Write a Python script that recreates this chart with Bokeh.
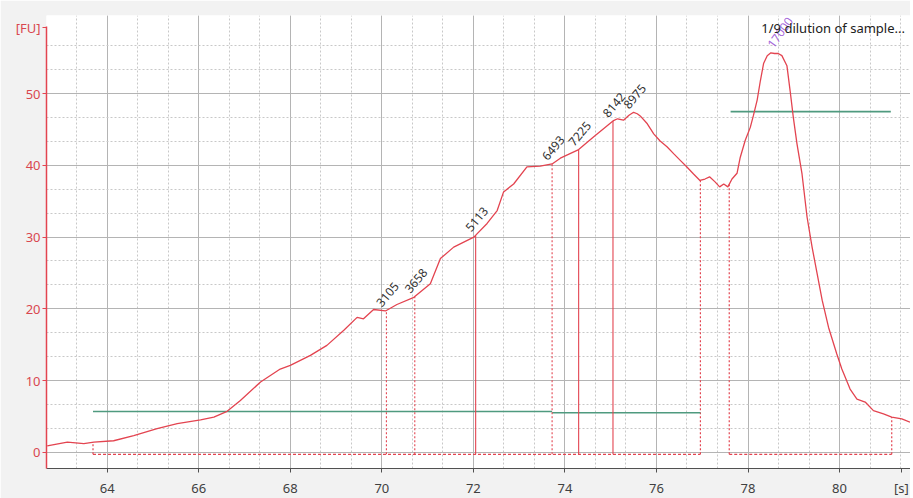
import numpy as np
from bokeh.plotting import figure
from bokeh.models import SingleIntervalTicker, FixedTicker, Label, ColumnDataSource, Range1d
from bokeh.core.properties import value
from bokeh.embed import file_html
from bokeh.resources import INLINE

# electropherogram trace (time [s], fluorescence [FU])
time_s = [62.69, 63.13, 63.49, 63.71, 64.14, 64.58, 65.09, 65.53, 66.04, 66.33, 66.62, 66.91,
          67.35, 67.78, 68.0, 68.44, 68.80, 69.17, 69.46, 69.60, 69.82, 70.08, 70.33, 70.70,
          71.06, 71.28, 71.57, 72.01, 72.30, 72.52, 72.66, 72.88, 73.17, 73.46, 73.72, 73.90,
          74.30, 74.63, 75.05, 75.15, 75.28, 75.40, 75.50, 75.58, 75.66, 75.80, 75.94, 76.08,
          76.23, 76.38, 76.52, 76.66, 76.81, 76.95, 77.06, 77.16, 77.28, 77.38, 77.47, 77.56,
          77.65, 77.76, 77.83, 77.94, 78.05, 78.12, 78.20, 78.27, 78.34, 78.42, 78.50, 78.58,
          78.66, 78.74, 78.85, 78.92, 78.99, 79.07, 79.18, 79.29, 79.40, 79.51, 79.62, 79.76,
          79.94, 80.05, 80.23, 80.38, 80.56, 80.74, 80.96, 81.14, 81.36, 81.54]
fu = [0.9, 1.4, 1.2, 1.4, 1.6, 2.3, 3.3, 4.0, 4.5, 4.9, 5.7, 7.2,
      9.8, 11.6, 12.1, 13.5, 14.9, 17.0, 18.8, 18.6, 19.9, 19.7, 20.6, 21.6,
      23.5, 27.0, 28.6, 30.0, 31.9, 33.7, 36.3, 37.4, 39.8, 39.9, 40.2, 41.0,
      42.2, 44.0, 46.2, 46.5, 46.3, 47.0, 47.4, 47.2, 46.8, 45.8, 44.4, 43.4,
      42.6, 41.6, 40.7, 39.8, 38.8, 37.9, 38.1, 38.4, 37.7, 37.0, 37.4, 37.0,
      38.1, 38.9, 41.1, 43.5, 45.3, 47.0, 49.1, 51.8, 54.2, 55.3, 55.7, 55.6,
      55.6, 55.3, 53.9, 50.4, 46.7, 43.0, 38.8, 32.8, 28.6, 24.9, 21.2, 17.4,
      13.7, 11.6, 8.8, 7.4, 7.0, 5.8, 5.35, 4.9, 4.65, 4.2]

# called peaks (size labels, bp)
peak_time = [70.10, 70.72, 72.05, 73.72, 74.30, 75.05, 75.50]
peak_label = ["3105", "3658", "5113", "6493", "7225", "8142", "8975"]
peak_has_line = [True, True, True, True, True, True, False]
peak_dash = ["2 2", "2 2", "solid", "2 2", "solid", "solid", "solid"]
marker_time = [78.57]
marker_label = ["17000"]

# smear regions: [start, end], baseline and thresholds
region_start = [63.69, 77.59]
region_end = [76.96, 81.14]
region_baseline = [-0.3, -0.3]
threshold_start = [63.69, 73.72, 77.62]
threshold_end = [73.72, 76.96, 81.12]
threshold_fu = [5.68, 5.5, 47.5]

# axis ticks
x_ticks = [64, 66, 68, 70, 72, 74, 76, 78, 80]
y_ticks = [0, 10, 20, 30, 40, 50]
x_unit, y_unit = "[s]", "[FU]"

sample_name = "1/9 dilution of sample..."

RED = "#e34450"
GREEN = "#4f9a7f"
FONT = "Noto Sans"

X0, X1 = 62.674, 81.55
Y0, Y1 = -2.27, 60.9

p = figure(frame_width=864, frame_height=453, min_border_left=46, min_border_right=0,
           min_border_top=15, min_border_bottom=5,
           x_range=Range1d(X0, X1), y_range=Range1d(Y0, Y1),
           output_backend="svg", toolbar_location=None,
           background_fill_color="white", border_fill_color="#f2f2f2")
p.outline_line_color = None

# axes: unit labels shown as the last tick label
x_unit_pos = 81.35
y_unit_pos = 59.2
p.xaxis.ticker = FixedTicker(ticks=x_ticks + [x_unit_pos], minor_ticks=[])
p.xaxis.major_label_overrides = {x_unit_pos: x_unit}
p.yaxis.ticker = FixedTicker(ticks=y_ticks + [y_unit_pos], minor_ticks=[])
p.yaxis.major_label_overrides = {y_unit_pos: y_unit}
p.yaxis.bounds = (Y0, y_unit_pos + 0.1)

# grid with 3 minor intervals per major interval
p.xgrid.ticker = SingleIntervalTicker(interval=2, num_minor_ticks=3)
y_minor = [v for v in np.arange(-10, 60, 10 / 3) if abs(v / 10 - round(v / 10)) > 1e-6]
p.ygrid.ticker = FixedTicker(ticks=y_ticks, minor_ticks=y_minor)

for g in (p.xgrid, p.ygrid):
    g.grid_line_color = "#b4b4b4"
    g.grid_line_width = 1
    g.minor_grid_line_color = "#c8c8c8"
    g.minor_grid_line_dash = "2 2"
    g.minor_grid_line_width = 1

p.xaxis.axis_line_color = "#505050"
p.xaxis.major_tick_line_color = "#505050"
p.xaxis.major_tick_out = 4
p.xaxis.major_tick_in = 0
p.xaxis.minor_tick_line_color = None
p.xaxis.major_label_text_color = "#404040"
p.xaxis.major_label_text_font = FONT
p.xaxis.major_label_text_font_size = "13px"
p.xaxis.major_label_standoff = 6

p.yaxis.axis_line_color = RED
p.yaxis.axis_line_width = 1.5
p.yaxis.major_tick_line_color = RED
p.yaxis.major_tick_out = 4
p.yaxis.major_tick_in = 0
p.yaxis.minor_tick_line_color = None
p.yaxis.major_label_text_color = "#d9474f"
p.yaxis.major_label_text_font = FONT
p.yaxis.major_label_text_font_size = "13px"
p.yaxis.major_label_standoff = 2

# baselines of the regions
for s, e, b in zip(region_start, region_end, region_baseline):
    p.line([s, e], [b, b], line_color=RED, line_dash="3 2", line_width=1.2)
    for xx in (s, e):
        p.line([xx, xx], [b, float(np.interp(xx, time_s, fu))],
               line_color=RED, line_dash="2 2", line_width=1.2)

# thresholds
for s, e, t in zip(threshold_start, threshold_end, threshold_fu):
    p.line([s, e], [t, t], line_color=GREEN, line_width=1.6)

# peak drop lines
for t, has, d in zip(peak_time, peak_has_line, peak_dash):
    if has:
        p.line([t, t], [region_baseline[0], float(np.interp(t, time_s, fu))],
               line_color=RED, line_dash=d, line_width=1.1)

# trace
p.line(time_s, fu, line_color=RED, line_width=1.3)

# peak labels
peak_src = ColumnDataSource(dict(x=peak_time, y=[float(np.interp(t, time_s, fu)) for t in peak_time],
                                 t=peak_label))
p.text(x="x", y="y", text="t", source=peak_src, angle=0.87, text_align="center",
       text_baseline="middle", x_offset=1, y_offset=-16, text_font=value(FONT),
       text_font_size="12px", text_color="#303030")

p.add_layout(Label(x=81.43, y=59.2, text=sample_name, text_align="right", text_baseline="middle",
                   text_font=FONT, text_font_size="13px", text_color="#202020"))

mk_src = ColumnDataSource(dict(x=marker_time, y=[float(np.interp(t, time_s, fu)) for t in marker_time],
                               t=marker_label))
p.text(x="x", y="y", text="t", source=mk_src, angle=0.95, text_align="center",
       text_baseline="middle", x_offset=6, y_offset=-21, text_font=value(FONT),
       text_font_size="12px", text_color="#9b55d6", text_alpha=0.9)

open("out.html", "w").write(file_html(p, INLINE))
